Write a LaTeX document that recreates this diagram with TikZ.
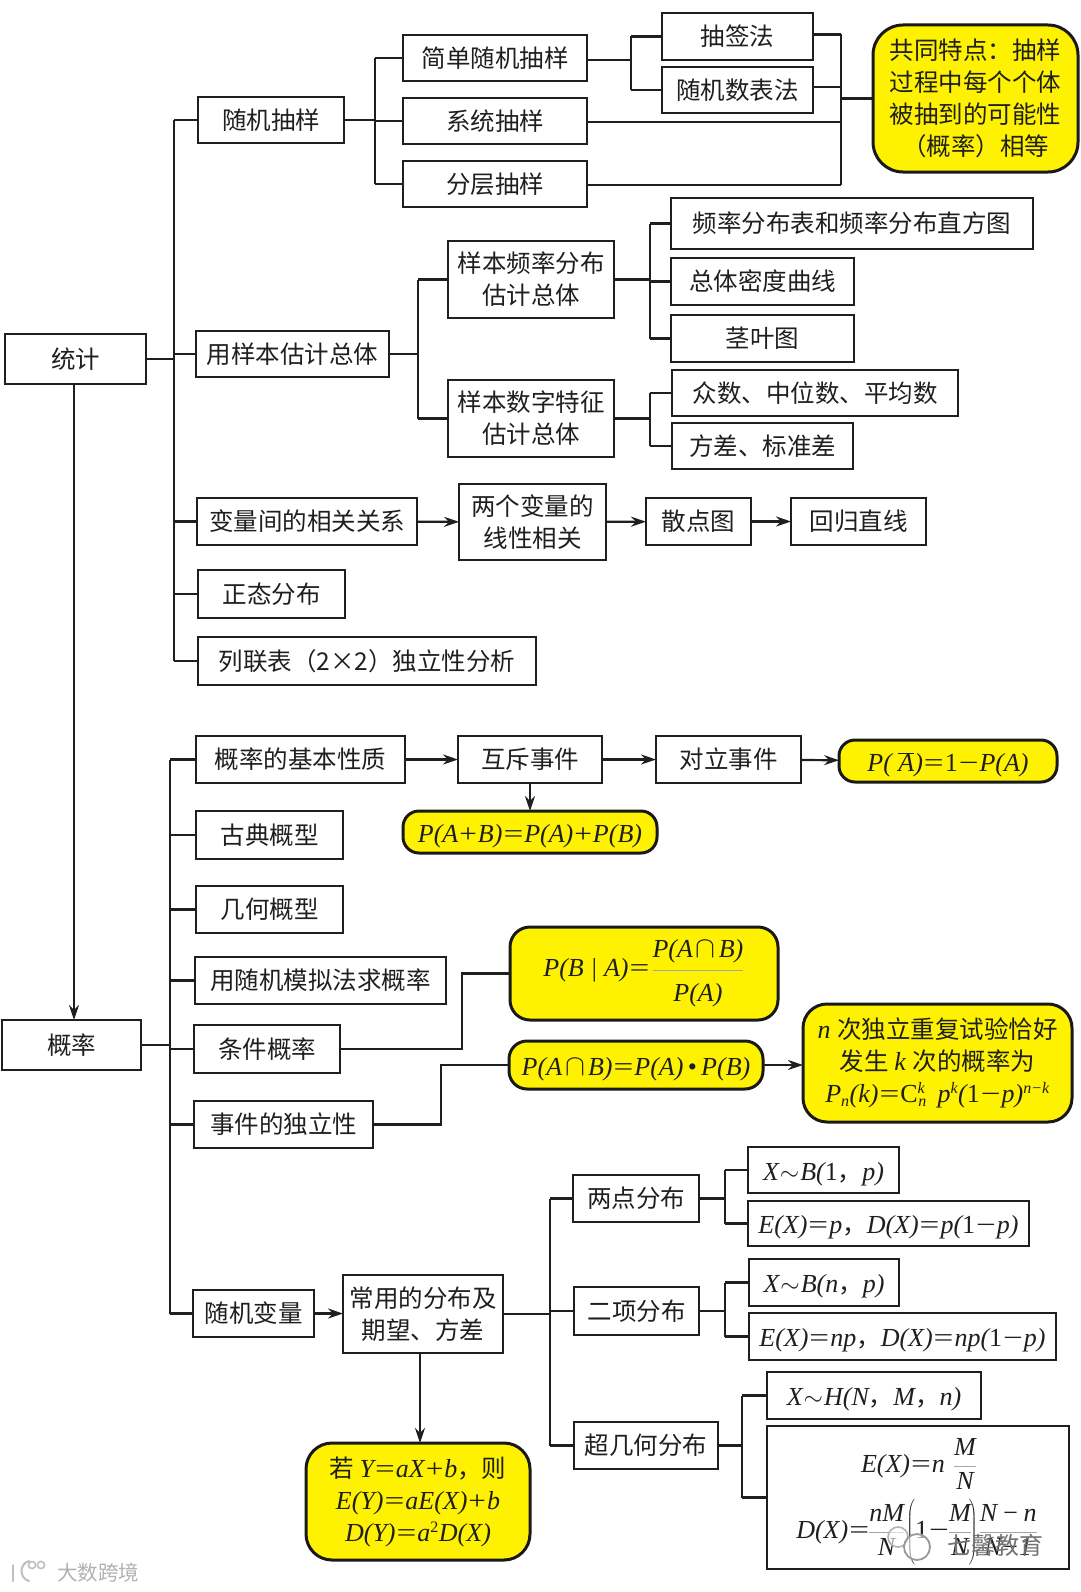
\documentclass[tikz,border=0pt]{standalone}
\usepackage{fontspec}
\usetikzlibrary{arrows.meta,calc}
\setmainfont{Noto Sans CJK SC}
\newfontfamily\tm{Liberation Serif}
\newcommand{\fmf}{\tm\itshape}
\newcommand{\fm}{\fontsize{26}{32}\selectfont\fmf}
\newcommand{\rn}[1]{{\tm\upshape #1}}
\newcommand{\cn}[1]{{\rmfamily\upshape\fontsize{24.5}{32}\selectfont #1}}
\newcommand{\fr}[2]{{\color{black!35}\displaystyle\frac{\hbox{\color{black!88}\fm\strut #1}}{\hbox{\color{black!88}\fm\strut #2}}}}
\newcommand{\frb}[2]{{\color{black!35}\displaystyle\frac{\hbox{\color{black!88}\fm\rule[-11pt]{0pt}{20pt}#1}}{\hbox{\color{black!88}\fm\rule[-6pt]{0pt}{36pt}#2}}}}
\newcommand{\ssz}{\fontsize{16}{16}\selectfont}
\newcommand{\up}[1]{\ensuremath{^{\hbox{\ssz\fmf #1}}}}
\newcommand{\dn}[1]{\ensuremath{_{\hbox{\ssz\fmf #1}}}}
\newcommand{\eq}{\kern1pt\scalebox{1.35}[1]{\rn{=}}\kern1pt}
\newcommand{\pl}{\kern1pt\scalebox{1.2}[1]{\rn{+}}\kern1pt}
\newcommand{\mn}{\kern1pt\scalebox{1.35}[1]{\rn{−}}\kern1pt}
\newcommand{\ca}{\kern3pt\scalebox{1.2}{\ensuremath{\cap}}\kern3pt}
\newcommand{\sm}{\kern1pt\ensuremath{\sim}\kern1pt}
\newcommand{\lw}[1]{\raisebox{-4pt}[\height][\depth]{#1}}
\tikzset{
  cell/.style={draw=black!88,line width=2pt,fill=white,inner sep=0pt,outer sep=0pt,align=center,text=black!88,font=\fontsize{24.5}{32}\selectfont},
  hot/.style={cell,fill=yellow,draw=black!90,line width=3pt,rounded corners=#1},
  hot/.default=14pt,
  wire/.style={line width=2.2pt,draw=black!88},
  thick wire/.style={line width=2.8pt,draw=black!88},
  arr/.style={wire,-{Stealth[length=15pt,width=10pt,inset=5pt]}},
  wm/.style={inner sep=0pt,text=black!30,font=\fontsize{23}{23}\selectfont},
  plain/.style={inner sep=0pt,text=black!88,font=\fontsize{24.5}{32}\selectfont}
}
\newcommand{\bx}[7][]{%
  \pgfmathsetmacro{\cxx}{(#3+#5)/2}\pgfmathsetmacro{\cyy}{(#4+#6)/2}%
  \pgfmathsetmacro{\wdd}{#5-#3}\pgfmathsetmacro{\htt}{#6-#4}%
  \node[cell,#1,minimum width=\wdd pt,minimum height=\htt pt] (#2) at (\cxx,\cyy) {#7};}
\begin{document}
\begin{tikzpicture}[x=1pt,y=-1pt]
\useasboundingbox (0,0) rectangle (1080,1592);
\fill[white] (0,0) rectangle (1080,1592);
% buses
\coordinate (bA) at (174,0);
\coordinate (bB) at (375,0);
\coordinate (bC) at (631,0);
\coordinate (bD) at (841,0);
\coordinate (bE) at (418,0);
\coordinate (bF) at (650,0);
\coordinate (bG) at (170,0);
\coordinate (bH) at (462,0);
\coordinate (bI) at (441,0);
\coordinate (bJ) at (550,0);
\coordinate (bK) at (725,0);
\coordinate (bL) at (742,0);
% statistics
\bx{tj}{5}{334}{146}{384}{统计}
\bx{sj}{198}{97}{344}{143}{随机抽样}
\bx{jd}{403}{35}{587}{81}{简单随机抽样}
\bx{xt}{403}{98}{587}{144}{系统抽样}
\bx{fc}{403}{161}{587}{207}{分层抽样}
\bx{cq}{662}{13}{813}{60}{抽签法}
\bx{sb}{662}{67}{813}{113}{随机数表法}
\bx[hot=30pt]{gt}{873}{25}{1078}{172}{共同特点：抽样\\过程中每个个体\\被抽到的可能性\\（概率）相等}
\bx{yb}{196}{331}{389}{377}{用样本估计总体}
\bx{pl}{448}{241}{614}{318}{样本频率分布\\估计总体}
\bx{sz}{448}{380}{614}{457}{样本数字特征\\估计总体}
\bx{zf}{671}{198}{1033}{249}{频率分布表和频率分布直方图}
\bx{md}{671}{258}{854}{305}{总体密度曲线}
\bx{jy}{671}{315}{854}{362}{茎叶图}
\bx{zs}{672}{370}{958}{416}{众数、中位数、平均数}
\bx{fb}{672}{423}{853}{469}{方差、标准差}
\bx{xg}{197}{498}{417}{545}{变量间的相关关系}
\bx{lg}{459}{484}{606}{560}{两个变量的\\线性相关}
\bx{sd}{646}{498}{751}{545}{散点图}
\bx{hg}{791}{498}{926}{545}{回归直线}
\bx{zt}{198}{570}{345}{618}{正态分布}
\bx{ll}{198}{637}{536}{685}{列联表（2×2）独立性分析}
% probability
\bx{gl}{2}{1020}{141}{1070}{概率}
\bx{jb}{196}{736}{405}{783}{概率的基本性质}
\bx{hc}{458}{736}{602}{783}{互斥事件}
\bx{dl}{656}{736}{801}{783}{对立事件}
\bx[hot=16pt]{pa}{839}{740}{1057}{782}{\lw{\fm P( $\overline{\hbox{\fmf A}}$)\eq\rn{1}\mn P(A)}}
\bx[hot=16pt]{pb}{403}{811}{657}{853}{\lw{\fm P(A\pl B)\eq P(A)\pl P(B)}}
\bx{gd}{196}{811}{343}{859}{古典概型}
\bx{jh}{196}{886}{343}{933}{几何概型}
\bx{mn}{195}{957}{446}{1004}{用随机模拟法求概率}
\bx{tg}{194}{1025}{340}{1073}{条件概率}
\bx{dll}{194}{1101}{373}{1148}{事件的独立性}
\bx[hot=20pt]{pc}{510}{927}{778}{1020}{\fm P(B | A)\eq\kern1pt$\frb{P(A\ca B)}{P(A)}$}
\bx[hot=18pt]{pd}{509}{1041}{763}{1089}{\lw{\fm P(A\ca B)\eq P(A)\,\rn{•}\,P(B)}}
\bx[hot=24pt]{nc}{803}{1004}{1072}{1122}{\fm n \cn{次独立重复试验恰好}\\\cn{发生} \fm k \cn{次的概率为}\\\fm P\dn{n}(k)\eq\rn{C}\up{k}\kern-7pt\dn{n}\, p\up{k}(\rn{1}\mn p)\up{n−k}}
\bx{sj2}{193}{1290}{314}{1337}{随机变量}
\bx{cy}{343}{1275}{503}{1353}{常用的分布及\\期望、方差}
\bx{ld}{573}{1175}{699}{1222}{两点分布}
\bx{ex}{574}{1287}{699}{1335}{二项分布}
\bx{cj}{574}{1422}{718}{1469}{超几何分布}
\bx{xa}{748}{1147}{899}{1193}{\lw{\fm X\sm B(\rn{1}\cn{，}p)}}
\bx{xb}{748}{1201}{1029}{1246}{\lw{\fm E(X)\eq p\cn{，}D(X)\eq p(\rn{1}\mn p)}}
\bx{xc}{749}{1259}{899}{1306}{\lw{\fm X\sm B(n\cn{，}p)}}
\bx{xd}{749}{1313}{1056}{1360}{\lw{\fm E(X)\eq np\cn{，}D(X)\eq np(\rn{1}\mn p)}}
\bx{xe}{767}{1372}{981}{1419}{\lw{\fm X\sm H(N\cn{，}M\cn{，}n)}}
\bx{xf}{767}{1426}{1069}{1569}{}
\node[plain] (ef) at (919,1466) {\fm E(X)\eq n\kern8pt$\fr{M}{N}$};
\node[plain] (df) at (917,1532) {\fm D(X)\eq\kern-2pt$\fr{nM}{N}\kern-3pt\left(\hbox{\rn{1}\mn}\kern-2pt\fr{M}{N}\kern-3pt\right)\kern-3pt\fr{N\,−\,n}{N−1}$};
\bx[hot=26pt]{rb}{306}{1443}{530}{1560}{\cn{若} \fm Y\eq aX\pl b\cn{，则}\\\fm E(Y)\eq aE(X)\pl b\\\fm D(Y)\eq a\up{\rn{2}}D(X)}
% connectors: statistics
\draw[wire] (sj.west -| bA) -- (ll.west -| bA);
\foreach \n in {sj,yb,xg,zt,ll}{\draw[wire] (\n.west -| bA) -- (\n.west);}
\draw[thick wire] (tj.east) -- (tj.east -| bA);
\draw[wire] (jd.west -| bB) -- (fc.west -| bB);
\foreach \n in {jd,xt,fc}{\draw[wire] (\n.west -| bB) -- (\n.west);}
\draw[wire] (sj.east) -- (sj.east -| bB);
\draw[wire] (cq.west -| bC) -- (sb.west -| bC);
\foreach \n in {cq,sb}{\draw[wire] (\n.west -| bC) -- (\n.west);}
\draw[wire] ([yshift=-2pt]jd.east) -- ([yshift=-2pt]jd.east -| bC);
\draw[wire] ([yshift=2pt]cq.east -| bD) -- ([yshift=-1pt]fc.east -| bD);
\draw[wire] ([yshift=2pt]cq.east) -- ([yshift=2pt]cq.east -| bD);
\draw[wire] ([yshift=3pt]sb.east) -- ([yshift=3pt]sb.east -| bD);
\draw[wire] ([yshift=-1pt]xt.east) -- ([yshift=-1pt]xt.east -| bD);
\draw[wire] ([yshift=-1pt]fc.east) -- ([yshift=-1pt]fc.east -| bD);
\draw[wire] (bD |- gt.west) -- (gt.west);
\draw[wire] (pl.west -| bE) -- (sz.west -| bE);
\foreach \n in {pl,sz}{\draw[wire] (\n.west -| bE) -- (\n.west);}
\draw[wire] (yb.east) -- (yb.east -| bE);
\draw[wire] (zf.west -| bF) -- (jy.west -| bF);
\foreach \n in {zf,md,jy}{\draw[wire] (\n.west -| bF) -- (\n.west);}
\draw[wire] (pl.east) -- (pl.east -| bF);
\draw[wire] (zs.west -| bF) -- (fb.west -| bF);
\foreach \n in {zs,fb}{\draw[wire] (\n.west -| bF) -- (\n.west);}
\draw[wire] (sz.east) -- (sz.east -| bF);
\draw[arr] (xg) -- (lg);
\draw[arr] (lg) -- (sd);
\draw[arr] (sd) -- (hg);
\draw[arr] (tj.south -| 74,0) -- (gl.north -| 74,0);
% connectors: probability
\draw[wire] (jb.west -| bG) -- (sj2.west -| bG);
\foreach \n in {jb,gd,jh,mn,tg,dll,sj2}{\draw[wire] (\n.west -| bG) -- (\n.west);}
\draw[thick wire] (gl.east) -- (gl.east -| bG);
\draw[arr] (jb) -- (hc);
\draw[arr] (hc) -- (dl);
\draw[arr] (dl) -- (pa);
\draw[arr] (hc.south -| pb.north) -- (pb.north);
\draw[wire] (tg.east) -- (tg.east -| bH) -- (bH |- pc.west) -- (pc.west);
\draw[wire] (dll.east) -- (dll.east -| bI) -- (bI |- pd.west) -- (pd.west);
\draw[arr] (pd) -- (pd -| nc.west);
\draw[arr] (sj2) -- (sj2 -| cy.west);
\draw[arr] (cy.south -| 420,0) -- (rb.north -| 420,0);
\draw[wire] (ld.west -| bJ) -- (cj.west -| bJ);
\foreach \n in {ld,ex,cj}{\draw[wire] (\n.west -| bJ) -- (\n.west);}
\draw[thick wire] (cy.east) -- (cy.east -| bJ);
\draw[wire] (xa.west -| bK) -- (xb.west -| bK);
\foreach \n in {xa,xb}{\draw[wire] (\n.west -| bK) -- (\n.west);}
\draw[wire] (ld.east) -- (ld.east -| bK);
\draw[wire] (xc.west -| bK) -- (xd.west -| bK);
\foreach \n in {xc,xd}{\draw[wire] (\n.west -| bK) -- (\n.west);}
\draw[wire] (ex.east) -- (ex.east -| bK);
\draw[wire] (xe.west -| bL) -- (bL |- xf.west);
\draw[wire] (xe.west -| bL) -- (xe.west);
\draw[wire] (bL |- xf.west) -- (xf.west);
\draw[wire] (cj.east) -- (cj.east -| bL);
% watermarks
\node[wm,anchor=west,font=\fontsize{20.5}{21}\selectfont] (wl) at (57,1573) {大数跨境};
\draw[black!25,line width=2pt,line cap=round] (13,1565) -- (13,1581);
\draw[black!25,line width=2pt,line cap=round] (29,1561) .. controls (19,1564) and (19,1578) .. (29,1581);
\draw[black!25,line width=1.6pt] (32,1565) circle[radius=3.6pt];
\draw[black!25,line width=1.6pt] (41,1565) circle[radius=3.6pt];
\node[wm,anchor=west,text=black!55,font=\fontsize{24}{24}\selectfont] (wr) at (947,1545) {七馨教育};
\draw[black!30,line width=1.6pt,fill=white,fill opacity=0.6] (898,1537) circle[radius=10pt];
\draw[black!40,line width=1.8pt,fill=white,fill opacity=0.6] (917,1547) circle[radius=13pt];
\end{tikzpicture}
\end{document}
